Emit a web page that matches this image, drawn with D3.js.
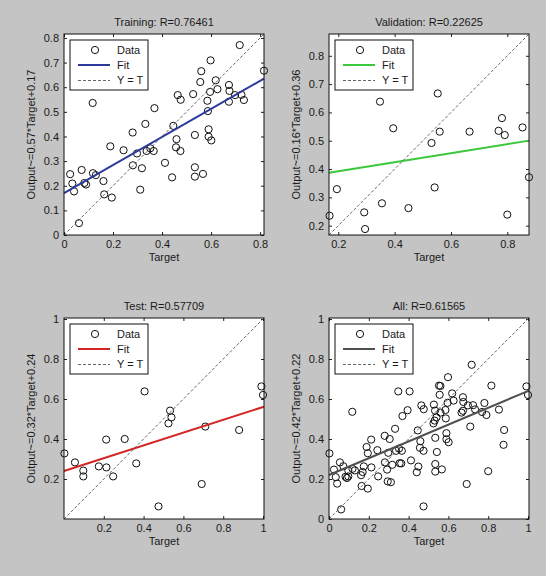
<!DOCTYPE html>
<html>
<head>
<meta charset="utf-8">
<script src="https://cdn.jsdelivr.net/npm/d3@7"></script>
<style>
  html, body { margin: 0; padding: 0; background: #c4c4c4; }
  svg { display: block; }
  text { font-family: "Liberation Sans", Arial, sans-serif; fill: #1a1a1a; }
</style>
</head>
<body>
<div id="chart"></div>
<script>
// Regression panels (target vs output)

const trainingTargets = [0.025, 0.034, 0.041, 0.061, 0.072, 0.083, 0.090, 0.117, 0.118, 0.130,
  0.161, 0.164, 0.189, 0.195, 0.243, 0.280, 0.281, 0.298, 0.311, 0.318,
  0.332, 0.337, 0.352, 0.366, 0.369, 0.412, 0.441, 0.446, 0.459, 0.457,
  0.475, 0.464, 0.476, 0.527, 0.534, 0.534, 0.534, 0.567, 0.556, 0.560,
  0.598, 0.585, 0.587, 0.590, 0.590, 0.601, 0.596, 0.619, 0.626, 0.673,
  0.675, 0.673, 0.698, 0.724, 0.734, 0.717, 0.816];
const trainingOutputs = [0.247, 0.209, 0.177, 0.048, 0.264, 0.211, 0.205, 0.536, 0.251, 0.243,
  0.219, 0.165, 0.360, 0.152, 0.344, 0.416, 0.283, 0.331, 0.184, 0.271,
  0.451, 0.341, 0.352, 0.341, 0.515, 0.293, 0.234, 0.443, 0.389, 0.356,
  0.341, 0.568, 0.549, 0.572, 0.406, 0.275, 0.237, 0.248, 0.621, 0.665,
  0.709, 0.545, 0.503, 0.429, 0.399, 0.384, 0.581, 0.628, 0.592, 0.609,
  0.585, 0.541, 0.568, 0.569, 0.548, 0.771, 0.667];

const validationTargets = [0.169, 0.195, 0.292, 0.295, 0.355, 0.348, 0.395, 0.449, 0.531, 0.542,
  0.553, 0.560, 0.666, 0.769, 0.781, 0.791, 0.800, 0.854, 0.877];
const validationOutputs = [0.235, 0.329, 0.247, 0.188, 0.279, 0.638, 0.544, 0.262, 0.492, 0.335,
  0.667, 0.532, 0.532, 0.535, 0.580, 0.520, 0.239, 0.547, 0.371];

const testTargets = [0.002, 0.055, 0.097, 0.097, 0.175, 0.212, 0.213, 0.247, 0.305, 0.363,
  0.405, 0.475, 0.525, 0.533, 0.540, 0.692, 0.710, 0.880, 0.992, 1.0];
const testOutputs = [0.328, 0.283, 0.242, 0.213, 0.263, 0.397, 0.258, 0.213, 0.400, 0.278,
  0.638, 0.063, 0.478, 0.542, 0.508, 0.175, 0.462, 0.445, 0.663, 0.620];

const allTargets = trainingTargets.concat(validationTargets, testTargets);
const allOutputs = trainingOutputs.concat(validationOutputs, testOutputs);

const titles = ["Training: R=0.76461", "Validation: R=0.22625", "Test: R=0.57709", "All: R=0.61565"];
const yLabels = ["Output~=0.57*Target+0.17", "Output~=0.16*Target+0.36",
  "Output~=0.32*Target+0.24", "Output~=0.42*Target+0.22"];
const fitSlopes = [0.57, 0.16, 0.32, 0.42];
const fitIntercepts = [0.17, 0.36, 0.24, 0.22];
const limits = [[0, 0.816], [0.167, 0.877], [0, 1.005], [0, 1.005]];
const xTicks = [
  [0, 0.2, 0.4, 0.6, 0.8],
  [0.2, 0.4, 0.6, 0.8],
  [0.2, 0.4, 0.6, 0.8, 1],
  [0, 0.2, 0.4, 0.6, 0.8, 1]
];
const yTicks = [
  [0, 0.1, 0.2, 0.3, 0.4, 0.5, 0.6, 0.7, 0.8],
  [0.2, 0.3, 0.4, 0.5, 0.6, 0.7, 0.8],
  [0.2, 0.4, 0.6, 0.8, 1],
  [0, 0.2, 0.4, 0.6, 0.8, 1]
];
const legendLabels = ["Data", "Fit", "Y = T"];

const panels = [
  { t: trainingTargets, y: trainingOutputs, color: "#2b3a9c" },
  { t: validationTargets, y: validationOutputs, color: "#3cc83c" },
  { t: testTargets, y: testOutputs, color: "#d42424" },
  { t: allTargets, y: allOutputs, color: "#505050" }
];

const width = 546, height = 576;
const lefts = [64, 329], tops = [34, 318];
const boxW = 200, boxH = 201;

const svg = d3.select('#chart').append('svg')
  .attr('width', width)
  .attr('height', height);

svg.append('rect').attr('width', width).attr('height', height).attr('fill', '#c4c4c4');

const fmt = d => String(+d.toFixed(2));

panels.forEach((p, i) => {
  const x0 = lefts[i % 2], y0 = tops[Math.floor(i / 2)];
  const lim = limits[i];
  const x = d3.scaleLinear().domain(lim).range([x0, x0 + boxW]);
  const y = d3.scaleLinear().domain(lim).range([y0 + boxH, y0]);

  const g = svg.append('g');

  g.append('rect')
    .attr('x', x0).attr('y', y0)
    .attr('width', boxW).attr('height', boxH)
    .attr('fill', '#fff');

  // axes with inward ticks, mirrored on top/right
  const axes = [
    { a: d3.axisBottom(x).tickValues(xTicks[i]).tickFormat(fmt), tr: `translate(0,${y0 + boxH})` },
    { a: d3.axisTop(x).tickValues(xTicks[i]).tickFormat(''), tr: `translate(0,${y0})` },
    { a: d3.axisLeft(y).tickValues(yTicks[i]).tickFormat(fmt), tr: `translate(${x0},0)` },
    { a: d3.axisRight(y).tickValues(yTicks[i]).tickFormat(''), tr: `translate(${x0 + boxW},0)` }
  ];
  axes.forEach(ax => {
    const sel = g.append('g')
      .attr('transform', ax.tr)
      .call(ax.a.tickSizeInner(-3).tickSizeOuter(0).tickPadding(5));
    sel.select('.domain').remove();
    sel.selectAll('line').attr('stroke', '#222');
    sel.selectAll('text')
      .attr('font-size', 11)
      .attr('font-family', '"Liberation Sans", Arial, sans-serif')
      .attr('fill', '#1a1a1a');
  });

  // data circles
  g.append('g').selectAll('circle')
    .data(p.t.map((t, k) => [t, p.y[k]]))
    .enter()
    .append('circle')
    .attr('cx', d => x(d[0]))
    .attr('cy', d => y(d[1]))
    .attr('r', 3.6)
    .attr('fill', 'none')
    .attr('stroke', '#111')
    .attr('stroke-width', 1);

  // fit line
  g.append('line')
    .attr('x1', x(lim[0])).attr('y1', y(fitSlopes[i] * lim[0] + fitIntercepts[i]))
    .attr('x2', x(lim[1])).attr('y2', y(fitSlopes[i] * lim[1] + fitIntercepts[i]))
    .attr('stroke', p.color)
    .attr('stroke-width', 2);

  // Y = T
  g.append('line')
    .attr('x1', x(lim[0])).attr('y1', y(lim[0]))
    .attr('x2', x(lim[1])).attr('y2', y(lim[1]))
    .attr('stroke', '#555')
    .attr('stroke-width', 0.9)
    .attr('stroke-dasharray', '3,2');

  // frame
  g.append('rect')
    .attr('x', x0).attr('y', y0)
    .attr('width', boxW).attr('height', boxH)
    .attr('fill', 'none')
    .attr('stroke', '#111');

  // title and labels
  g.append('text')
    .attr('x', x0 + boxW / 2).attr('y', y0 - 8)
    .attr('text-anchor', 'middle')
    .attr('font-size', 11)
    .text(titles[i]);

  g.append('text')
    .attr('x', x0 + boxW / 2).attr('y', y0 + boxH + 26)
    .attr('text-anchor', 'middle')
    .attr('font-size', 11)
    .text('Target');

  g.append('text')
    .attr('transform', `translate(${x0 - 29},${y0 + boxH / 2}) rotate(-90)`)
    .attr('text-anchor', 'middle')
    .attr('font-size', 11)
    .text(yLabels[i]);

  // legend
  const lx = x0 + 6, ly = y0 + 6;
  const leg = g.append('g');
  leg.append('rect')
    .attr('x', lx).attr('y', ly)
    .attr('width', 78).attr('height', 50)
    .attr('fill', '#fff')
    .attr('stroke', '#111');
  leg.append('circle')
    .attr('cx', lx + 25).attr('cy', ly + 10)
    .attr('r', 3.6).attr('fill', 'none').attr('stroke', '#111');
  leg.append('line')
    .attr('x1', lx + 8).attr('x2', lx + 40)
    .attr('y1', ly + 25).attr('y2', ly + 25)
    .attr('stroke', p.color).attr('stroke-width', 2);
  leg.append('line')
    .attr('x1', lx + 8).attr('x2', lx + 40)
    .attr('y1', ly + 40.5).attr('y2', ly + 40.5)
    .attr('stroke', '#555').attr('stroke-width', 0.9)
    .attr('stroke-dasharray', '3,2');
  legendLabels.forEach((lab, k) => {
    leg.append('text')
      .attr('x', lx + 47).attr('y', ly + 10 + k * 15.3)
      .attr('dy', '0.35em')
      .attr('font-size', 11)
      .text(lab);
  });
});
</script>
</body>
</html>
